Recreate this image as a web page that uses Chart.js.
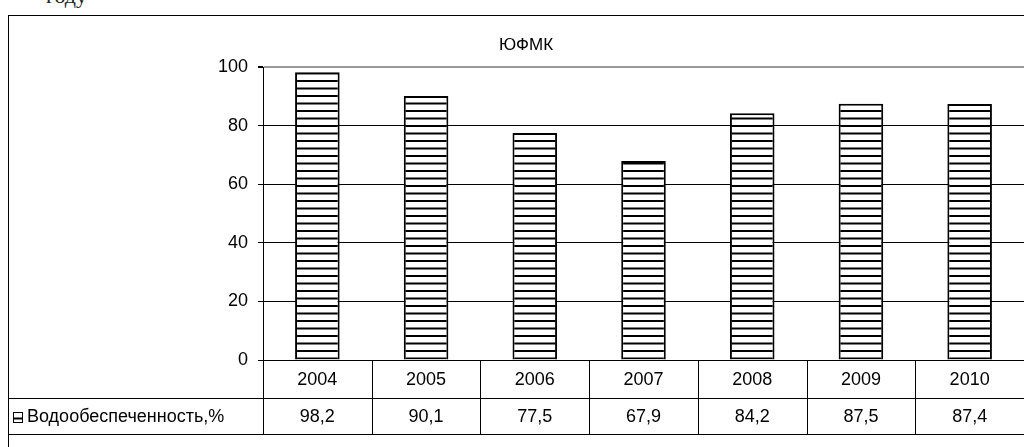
<!DOCTYPE html>
<html>
<head>
<meta charset="utf-8">
<script src="https://cdn.jsdelivr.net/npm/chart.js@4/dist/chart.umd.min.js"></script>
<style>
    html, body { margin: 0; padding: 0; background: #fff; overflow: hidden; }
    #wrap { position: relative; width: 1024px; height: 447px; }
    #note { position: absolute; left: 46px; top: -17px; font: 22px "Liberation Serif", serif; color: #222; }
    canvas { position: absolute; left: 0; top: 0; }
</style>
</head>
<body>
<div id="wrap">
    <div id="note">году</div>
    <canvas id="chart" width="1024" height="447"></canvas>
</div>
<script>
const chartTitle = 'ЮФМК';
const seriesName = 'Водообеспеченность,%';
const years = ['2004', '2005', '2006', '2007', '2008', '2009', '2010'];
const supply = [98.2, 90.1, 77.5, 67.9, 84.2, 87.5, 87.4];
const yTicks = [0, 20, 40, 60, 80, 100];

// horizontal stripes fill like the old excel pattern
function stripes() {
    const c = document.createElement('canvas');
    c.width = 8; c.height = 15;
    const g = c.getContext('2d');
    g.fillStyle = '#fff';
    g.fillRect(0, 0, 8, 15);
    g.fillStyle = '#000';
    g.fillRect(0, 5, 8, 2);
    g.fillRect(0, 12.5, 8, 2);
    return g.createPattern(c, 'repeat');
}

const fmt = v => String(v).replace('.', ',');

// frame, title and the data table under the axis
const tablePlugin = {
    id: 'table',
    afterDraw(chart) {
        const ctx = chart.ctx;
        const area = chart.chartArea;
        const x = chart.scales.x;
        const row1 = area.bottom, row2 = 398, row3 = 434;
        ctx.save();

        ctx.strokeStyle = '#000';
        ctx.lineWidth = 1;
        ctx.strokeRect(8.5, 15.5, 1100, 500);

        ctx.fillStyle = '#000';
        ctx.font = '17px "Liberation Sans", Arial';
        ctx.textAlign = 'center';
        ctx.textBaseline = 'middle';
        ctx.fillText(chartTitle, 526, 45);

        // grid lines of the table
        ctx.beginPath();
        ctx.moveTo(8, row2 + 0.5); ctx.lineTo(1024, row2 + 0.5);
        ctx.moveTo(8, row3 + 0.5); ctx.lineTo(1024, row3 + 0.5);
        const step = (x.getPixelForValue(1) - x.getPixelForValue(0));
        for (let i = 0; i < years.length; i++) {
            const bx = Math.round(x.getPixelForValue(i) - step / 2) + 0.5;
            ctx.moveTo(bx, row1); ctx.lineTo(bx, row3);
        }
        ctx.stroke();

        ctx.font = '18px "Liberation Sans", Arial';
        years.forEach((y, i) => {
            const cx = x.getPixelForValue(i);
            ctx.fillText(y, cx, (row1 + row2) / 2 + 1);
            ctx.fillText(fmt(supply[i]), cx, (row2 + row3) / 2 + 1);
        });

        // legend key
        ctx.fillStyle = chart.data.datasets[0].backgroundColor;
        ctx.fillRect(13, 412, 9, 10);
        ctx.strokeRect(13.5, 412.5, 9, 10);
        ctx.fillStyle = '#000';
        ctx.textAlign = 'left';
        ctx.fillText(seriesName, 27, (row2 + row3) / 2 + 1);
        ctx.restore();
    }
};

new Chart(document.getElementById('chart'), {
    type: 'bar',
    data: {
        labels: years,
        datasets: [{
            label: seriesName,
            data: supply,
            backgroundColor: stripes(),
            borderColor: '#000',
            borderWidth: 2,
            barPercentage: 0.41,
            categoryPercentage: 1
        }]
    },
    options: {
        responsive: false,
        animation: false,
        layout: { padding: { left: 0, right: 0, top: 67, bottom: 87 } },
        plugins: { legend: { display: false }, tooltip: { enabled: false } },
        scales: {
            x: {
                afterFit: axis => { axis.height = 0; },
                ticks: { display: false },
                grid: { display: false },
                border: { color: '#000' }
            },
            y: {
                min: 0, max: 100,
                afterBuildTicks: axis => { axis.ticks = yTicks.map(v => ({ value: v })); },
                afterFit: axis => { axis.width = 263; },
                ticks: { color: '#000', font: { family: '"Liberation Sans", Arial', size: 18 }, padding: 10 },
                grid: {
                    color: c => c.tick && c.tick.value === 100 ? '#999' : '#000',
                    lineWidth: c => c.tick && c.tick.value === 100 ? 2 : 1,
                    tickLength: 5,
                    tickColor: '#000'
                },
                border: { color: '#000', width: 1 }
            }
        }
    },
    plugins: [tablePlugin]
});
</script>
</body>
</html>
